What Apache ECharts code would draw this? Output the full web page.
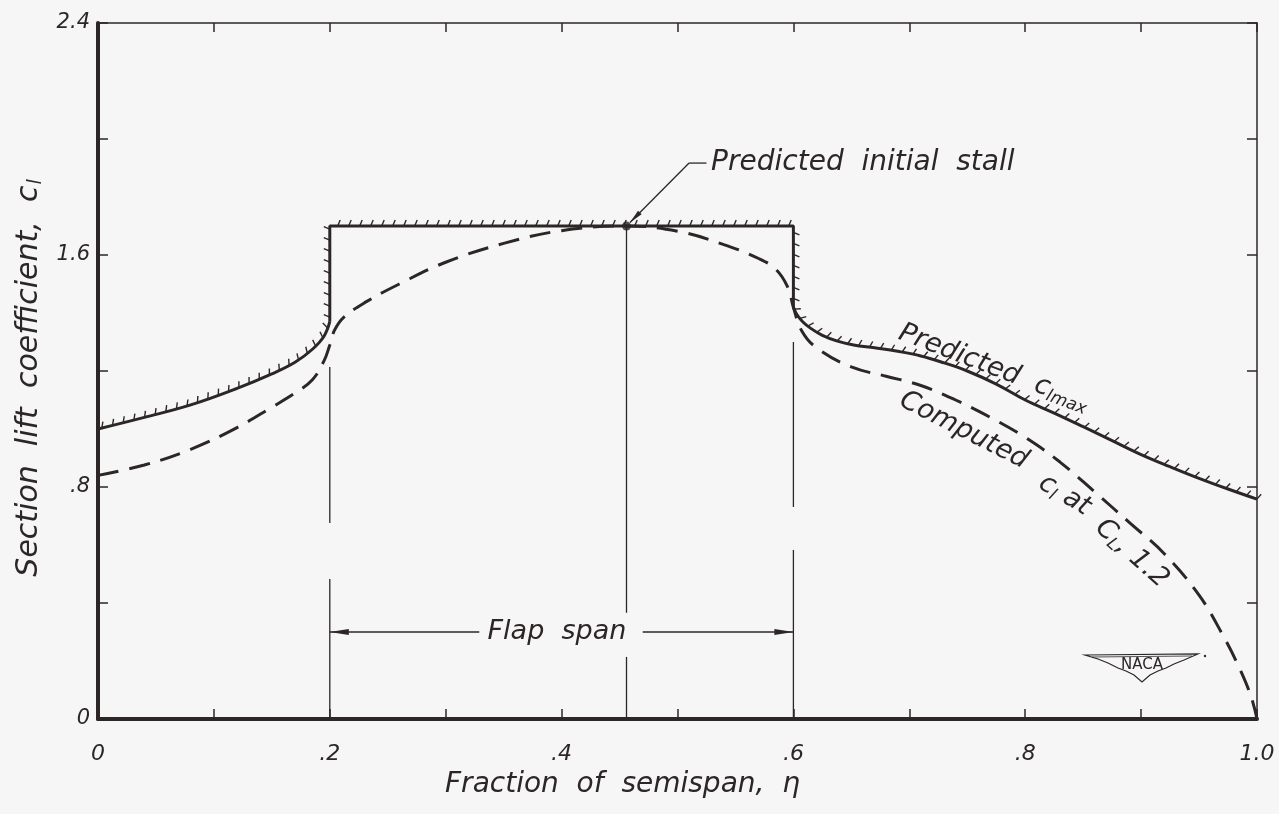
<!DOCTYPE html>
<html>
<head>
    <meta charset="utf-8">
    <script src="https://cdn.jsdelivr.net/npm/echarts@6/dist/echarts.min.js"></script>
    <style>
        html, body { margin: 0; background: #f6f6f6; }
    </style>
</head>
<body>
    <div id="main" style="width: 1279px;height:814px;"></div>
    <script type="text/javascript">
        var myChart = echarts.init(document.getElementById('main'));

        // predicted c_l max (solid, hatched): outboard-of-flap pieces + flat 1.7 over the flap span
        var predLeftX = [0, 0.04, 0.08, 0.12, 0.15, 0.17, 0.185, 0.195, 0.2];
        var predLeftY = [1.0, 1.04, 1.083, 1.14, 1.19, 1.23, 1.275, 1.32, 1.37];
        var predFlapX = [0.2, 0.2, 0.6, 0.6];
        var predFlapY = [1.37, 1.7, 1.7, 1.42];
        var predRightX = [0.6, 0.603, 0.608, 0.615, 0.625, 0.638, 0.652, 0.67, 0.69, 0.71, 0.73, 0.75, 0.775, 0.8, 0.825, 0.85, 0.875, 0.9, 0.925, 0.95, 0.975, 1.0];
        var predRightY = [1.42, 1.395, 1.37, 1.347, 1.323, 1.303, 1.29, 1.28, 1.268, 1.252, 1.228, 1.20, 1.155, 1.10, 1.055, 1.008, 0.96, 0.912, 0.87, 0.83, 0.793, 0.758];

        // computed c_l at C_L = 1.2 (dashed)
        var compX = [0, 0.04, 0.08, 0.12, 0.15, 0.17, 0.185, 0.195, 0.2, 0.204, 0.212, 0.232, 0.26, 0.3, 0.35, 0.4, 0.456, 0.5, 0.54, 0.57, 0.585, 0.595, 0.6, 0.607, 0.62, 0.65, 0.68, 0.71, 0.74, 0.77, 0.8, 0.83, 0.86, 0.89, 0.92, 0.95, 0.97, 0.985, 0.995, 1.0];
        var compY = [0.84, 0.876, 0.93, 1.005, 1.075, 1.124, 1.17, 1.235, 1.29, 1.34, 1.385, 1.44, 1.50, 1.575, 1.64, 1.684, 1.70, 1.682, 1.636, 1.588, 1.55, 1.49, 1.42, 1.34, 1.28, 1.214, 1.182, 1.15, 1.10, 1.04, 0.971, 0.886, 0.783, 0.677, 0.57, 0.427, 0.293, 0.174, 0.076, 0];

        // thin vertical guide lines: [x, from, to]
        var guideLines = [[0.2, 0, 0.483], [0.2, 0.676, 1.214], [0.6, 0, 0.583], [0.6, 0.731, 1.30], [0.456, 0, 0.214], [0.456, 0.366, 1.70]];
        var stallPoint = [0.456, 1.70];

        var xTickLabels = ['0', '', '.2', '', '.4', '', '.6', '', '.8', '', '1.0'];
        var yTickLabels = ['0', '', '.8', '', '1.6', '', '2.4'];

        var ink = '#2d2627';
        var font = 'DejaVu Sans';

        function toPairs(xs, ys) {
            return xs.map(function (x, i) { return [x, ys[i]]; });
        }

        // hatch ticks along the outer side of the whole predicted curve
        function renderHatch(params, api) {
            var xs = predLeftX.concat(predFlapX.slice(1), predRightX.slice(1));
            var ys = predLeftY.concat(predFlapY.slice(1), predRightY.slice(1));
            var pts = xs.map(function (x, i) { return api.coord([x, ys[i]]); });
            var children = [];
            var step = 11, len = 6, slant = 2.5, carry = 4;
            for (var i = 0; i < pts.length - 1; i++) {
                var a = pts[i], b = pts[i + 1];
                var dx = b[0] - a[0], dy = b[1] - a[1];
                var L = Math.sqrt(dx * dx + dy * dy);
                if (L === 0) continue;
                var tx = dx / L, ty = dy / L, nx = ty, ny = -tx;
                var d = carry;
                while (d < L) {
                    var px = a[0] + tx * d, py = a[1] + ty * d;
                    children.push({
                        type: 'line',
                        shape: { x1: px, y1: py, x2: px + nx * len + tx * slant, y2: py + ny * len + ty * slant },
                        style: { stroke: ink, lineWidth: 1.4 }
                    });
                    d += step;
                }
                carry = d - L;
            }
            return { type: 'group', children: children };
        }

        function renderGuide(params, api) {
            var p1 = api.coord([api.value(0), api.value(1)]);
            var p2 = api.coord([api.value(0), api.value(2)]);
            return {
                type: 'line',
                shape: { x1: p1[0], y1: p1[1], x2: p2[0], y2: p2[1] },
                style: { stroke: ink, lineWidth: 1.3 }
            };
        }

        function arrow(from, to, headLen, headW) {
            var dx = to[0] - from[0], dy = to[1] - from[1];
            var L = Math.sqrt(dx * dx + dy * dy);
            var tx = dx / L, ty = dy / L;
            var bx = to[0] - tx * headLen, by = to[1] - ty * headLen;
            return [
                { type: 'line', shape: { x1: from[0], y1: from[1], x2: to[0], y2: to[1] }, style: { stroke: ink, lineWidth: 1.3 } },
                { type: 'polygon', shape: { points: [to, [bx - ty * headW, by + tx * headW], [bx + ty * headW, by - tx * headW]] }, style: { fill: ink } }
            ];
        }

        function txt(pos, text, rot, size, align, rich) {
            return {
                type: 'text',
                x: pos[0], y: pos[1],
                rotation: rot * Math.PI / 180,
                style: {
                    text: text, fill: ink, fontSize: size, fontStyle: 'italic', fontFamily: font,
                    align: align, verticalAlign: 'middle', rich: rich || {}
                }
            };
        }

        var subStyle = { fontSize: 17, fontStyle: 'italic', fontFamily: font, fill: ink, padding: [13, 0, 0, 0] };
        var mainStyle = { fontSize: 27, fontStyle: 'italic', fontFamily: font, fill: ink };

        function renderNotes(params, api) {
            var c = function (x, y) { return api.coord([x, y]); };
            var children = [];
            // flap span arrows
            children = children.concat(arrow(c(0.329, 0.3), c(0.2, 0.3), 19, 3));
            children = children.concat(arrow(c(0.47, 0.3), c(0.6, 0.3), 19, 3));
            children.push(txt(c(0.396, 0.3), 'Flap  span', 0, 27, 'center'));
            // predicted initial stall leader
            var k1 = c(0.525, 1.917), k2 = c(0.51, 1.917);
            children.push({ type: 'line', shape: { x1: k1[0], y1: k1[1], x2: k2[0], y2: k2[1] }, style: { stroke: ink, lineWidth: 1.3 } });
            children = children.concat(arrow(k2, c(0.459, 1.712), 14, 2.5));
            children.push(txt(c(0.529, 1.917), 'Predicted  initial  stall', 0, 28, 'left'));
            // curve labels
            children.push(txt(c(0.773, 1.21), '{m|Predicted  c}{s|lmax}', -21, 27, 'center', { m: mainStyle, s: subStyle }));
            children.push(txt(c(0.747, 0.995), '{m|Computed}', -27, 27, 'center', { m: mainStyle }));
            children.push(txt(c(0.834, 0.772), '{m|c}{s|l}{m| at}', -31, 27, 'center', { m: mainStyle, s: subStyle }));
            children.push(txt(c(0.892, 0.57), '{m|C}{s|L}{m|, 1.2}', -42, 27, 'center', { m: mainStyle, s: subStyle }));
            return { type: 'group', children: children };
        }

        var option = {
            backgroundColor: '#f6f6f6',
            animation: false,
            grid: { left: 98, right: 22, top: 23, bottom: 95 },
            xAxis: [
                {
                    type: 'value', position: 'bottom', min: 0, max: 1, interval: 0.1,
                    name: 'Fraction  of  semispan,  η', nameLocation: 'middle', nameGap: 52,
                    nameTextStyle: { fontSize: 28, fontStyle: 'italic', fontFamily: font, color: ink, padding: [0, 110, 0, 0] },
                    axisLine: { onZero: false, lineStyle: { color: ink, width: 4 } },
                    axisTick: { inside: true, length: 10, lineStyle: { color: ink, width: 1.5 } },
                    axisLabel: {
                        interval: 0, margin: 24, fontSize: 22, fontStyle: 'italic', fontFamily: font, color: ink,
                        formatter: function (v) { return xTickLabels[Math.round(v * 10)]; }
                    },
                    splitLine: { show: false }
                },
                {
                    type: 'value', position: 'top', min: 0, max: 1, interval: 0.1,
                    axisLine: { onZero: false, lineStyle: { color: ink, width: 1.5 } },
                    axisTick: { inside: true, length: 9, lineStyle: { color: ink, width: 1.5 } },
                    axisLabel: { show: false },
                    splitLine: { show: false }
                }
            ],
            yAxis: [
                {
                    type: 'value', position: 'left', min: 0, max: 2.4, interval: 0.4,
                    name: '{m|Section  lift  coefficient,  c}{s|l}', nameLocation: 'middle', nameGap: 52,
                    nameTextStyle: {
                        fontSize: 30, fontStyle: 'italic', fontFamily: font, color: ink, padding: [0, 14, 0, 0],
                        rich: {
                            m: { fontSize: 30, fontStyle: 'italic', fontFamily: font, color: ink },
                            s: { fontSize: 19, fontStyle: 'italic', fontFamily: font, color: ink, padding: [14, 0, 0, 1] }
                        }
                    },
                    axisLine: { onZero: false, lineStyle: { color: ink, width: 4 } },
                    axisTick: { inside: true, length: 10, lineStyle: { color: ink, width: 1.5 } },
                    axisLabel: {
                        margin: 8, fontSize: 21, fontStyle: 'italic', fontFamily: font, color: ink,
                        padding: [0, 0, 8, 0],
                        formatter: function (v) { return yTickLabels[Math.round(v / 0.4)]; }
                    },
                    splitLine: { show: false }
                },
                {
                    type: 'value', position: 'right', min: 0, max: 2.4, interval: 0.4,
                    axisLine: { onZero: false, lineStyle: { color: ink, width: 1.5 } },
                    axisTick: { inside: true, length: 10, lineStyle: { color: ink, width: 1.5 } },
                    axisLabel: { show: false },
                    splitLine: { show: false }
                }
            ],
            graphic: [
                {
                    type: 'group', x: 1142, y: 666,
                    children: [
                        { type: 'polygon', shape: { points: [[-57, -11], [56, -12], [42, -6], [32, -2], [24, 2], [16, 5], [8, 9], [0, 16], [-8, 9], [-16, 5], [-24, 2], [-34, -3], [-44, -7]] },
                          style: { fill: 'none', stroke: ink, lineWidth: 1.2 } },
                        { type: 'polyline', shape: { points: [[-50, -9], [50, -10]] }, style: { stroke: ink, lineWidth: 0.8 } },
                        { type: 'circle', shape: { cx: 63, cy: -10, r: 1.2 }, style: { fill: ink } },
                        { type: 'text', style: { text: 'NACA', x: 0, y: -1, align: 'center', verticalAlign: 'middle', fontSize: 15, fontFamily: font, fill: ink } }
                    ]
                }
            ],
            series: [
                {
                    type: 'custom', name: 'guides', renderItem: renderGuide,
                    encode: { x: 0, y: [1, 2] }, data: guideLines, silent: true, clip: false
                },
                {
                    type: 'line', name: 'Predicted c_l max (root)', data: toPairs(predLeftX, predLeftY),
                    showSymbol: false, smooth: 0.4, lineStyle: { color: ink, width: 3 }, z: 3
                },
                {
                    type: 'line', name: 'Predicted c_l max (flap)', data: toPairs(predFlapX, predFlapY),
                    showSymbol: false, smooth: false, lineStyle: { color: ink, width: 3 }, z: 3
                },
                {
                    type: 'line', name: 'Predicted c_l max (tip)', data: toPairs(predRightX, predRightY),
                    showSymbol: false, smooth: 0.4, lineStyle: { color: ink, width: 3 }, z: 3
                },
                {
                    type: 'custom', name: 'hatch', renderItem: renderHatch,
                    data: [[0, 0]], silent: true, clip: false, z: 3
                },
                {
                    type: 'line', name: 'Computed c_l at C_L 1.2', data: toPairs(compX, compY),
                    showSymbol: false, smooth: 0.4, lineStyle: { color: ink, width: 3, type: [21, 11] }, z: 3
                },
                {
                    type: 'scatter', data: [stallPoint], symbolSize: 9,
                    itemStyle: { color: ink }, z: 4
                },
                {
                    type: 'custom', name: 'notes', renderItem: renderNotes,
                    data: [[0, 0]], silent: true, clip: false, z: 4
                }
            ]
        };

        myChart.setOption(option);
    </script>
</body>
</html>
